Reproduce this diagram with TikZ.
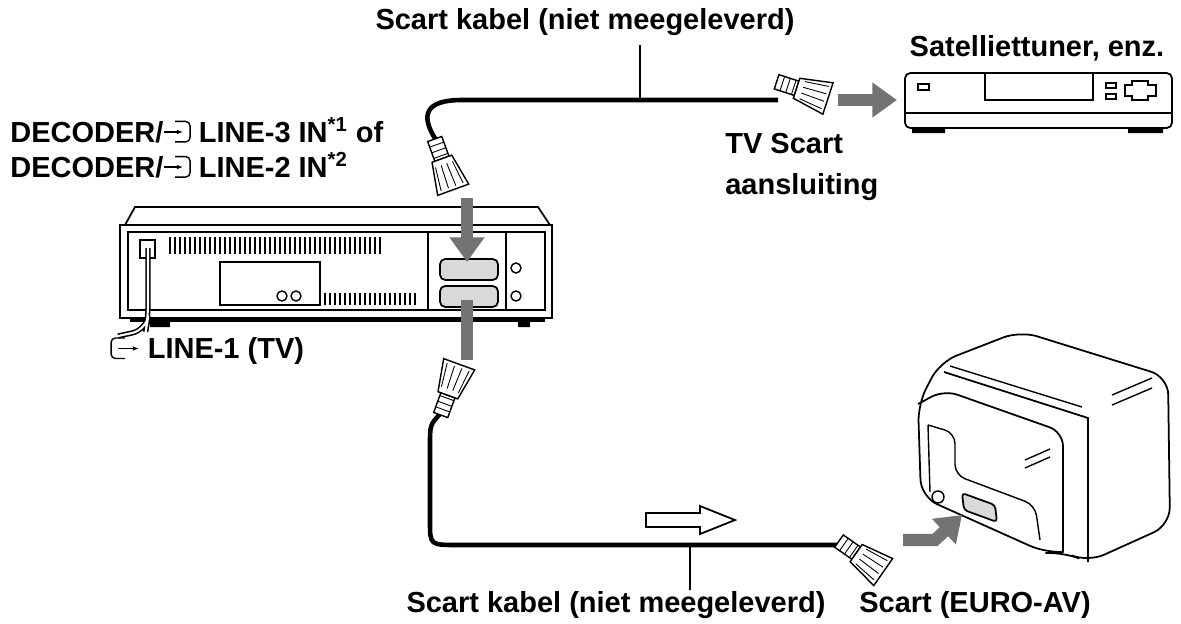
\documentclass[tikz,border=0pt]{standalone}
\usepackage{fontspec}
\setmainfont{Liberation Sans}
\usetikzlibrary{arrows.meta,positioning}

\newcommand{\insym}{\tikz[baseline=-1pt,x=1cm,y=1cm,line width=.8pt]{\draw[rounded corners=2.5pt] (.22,-.03) -- (.52,-.03) -- (.52,.38) -- (.22,.38);
 \draw[-{Latex[length=3.5pt]}] (0,.17) -- (.38,.17);}}
\newcommand{\outsym}{\tikz[baseline=-1pt,x=1cm,y=1cm,line width=.8pt]{\draw[rounded corners=2.5pt] (.28,-.03) -- (0,-.03) -- (0,.38) -- (.28,.38);
 \draw[-{Latex[length=3.5pt]}] (.14,.17) -- (.56,.17);}}
\newcommand{\scartplug}[3]{%
 \begin{scope}[shift={(#1,#2)},rotate=#3,scale=1.5,line width=.8pt]
 \draw[fill=white] (-22,-5) -- (-8,-5) -- (-8,5) -- (-22,5) -- cycle;
 \draw[fill=white] (-8,-7) -- (14,-11) -- (14,11) -- (-8,7) -- cycle;
 \foreach \k in {-6,-2,2,6} \draw[line width=.5pt] (-4,\k) -- (12,\k*1.3);
 \foreach \k in {-18,-14,-10} \draw[line width=.5pt] (\k,-5) -- (\k,5);
 \end{scope}}

\tikzset{
 lbl/.style={font=\bfseries\fontsize{16.5}{20}\selectfont, inner sep=0pt},
 cable/.style={line width=2.6pt},
 leader/.style={line width=1pt},
 plugarrow/.style={line width=7pt, draw=black!55, -{Triangle[length=14pt,width=19pt]}},
 dev/.style={line width=1pt, fill=white}
}

\begin{document}
\begin{tikzpicture}[x=0.02cm,y=-0.02cm]
\useasboundingbox (0,0) rectangle (1181,623);

% labels
\node[lbl] (top) at (585,22) {Scart kabel (niet meegeleverd)};
\node[lbl] (sat) at (1037,48) {Satelliettuner, enz.};
\node[lbl,anchor=west,align=left] (tvs) at (725,167) {TV Scart\\[3pt]aansluiting};
\node[lbl,anchor=west] (dec3) at (10,130) {DECODER/\insym\ LINE-3 IN\textsuperscript{*1} of};
\node[lbl,anchor=west] (dec2) at (10,165) {DECODER/\insym\ LINE-2 IN\textsuperscript{*2}};
\node[lbl,anchor=west] (line1) at (110,351) {\outsym\ LINE-1 (TV)};
\node[lbl] (bot) at (616,605) {Scart kabel (niet meegeleverd)};
\node[lbl] (euro) at (975,605) {Scart (EURO-AV)};

% satellite tuner
\draw[dev,rounded corners=3pt] (905,73) rectangle (1172,128);
\draw[line width=1pt] (905,113) -- (1172,113);
\draw[line width=1pt] (985,73) -- (985,100) -- (1093,100) -- (1093,73);
\draw[line width=.8pt] (918,84) rectangle (929,90);
\draw[line width=.8pt] (1106,83) rectangle (1116,88) (1106,94) rectangle (1116,99);
\draw[line width=.8pt] (1132,81) -- (1148,81) -- (1148,85) -- (1156,85) -- (1156,96) -- (1148,96) -- (1148,100) -- (1132,100) -- (1132,96) -- (1125,96) -- (1125,85) -- (1132,85) -- cycle;
\fill (912,128) rectangle (945,133) (1128,128) rectangle (1163,133);

% VCR
\draw[dev] (125,225) -- (135,207) -- (538,207) -- (550,225) -- cycle;
\draw[dev] (120,225) rectangle (552,318);
\draw[line width=1pt] (128,232) rectangle (545,310);
\draw[line width=.8pt] (428,232) -- (428,310) (506,232) -- (506,310);
\fill (130,318) rectangle (545,322);
\fill (150,322) rectangle (170,327) (518,322) rectangle (530,327);
\foreach \i in {0,...,42} \draw[line width=1.3pt] (170+5*\i,237) -- (170+5*\i,254);
\foreach \i in {0,...,18} \draw[line width=1.3pt] (325+5*\i,293) -- (325+5*\i,305);
\draw[line width=.8pt] (220,262) rectangle (320,305);
\draw[line width=.8pt] (282,296) circle (5) (296,296) circle (5);
\draw[line width=1pt,fill=black!15,rounded corners=3pt] (440,259) rectangle (498,280);
\draw[line width=1pt,fill=black!15,rounded corners=3pt] (440,286) rectangle (498,307);
\draw[line width=.8pt] (516,268) circle (5) (516,296) circle (5);
\draw[line width=.8pt] (140,240) rectangle (155,258);
\draw[line width=3pt,rounded corners=8pt] (148,248) -- (148,318) -- (146,330) -- (118,336);
\draw[line width=1.2pt,white,rounded corners=8pt] (148,248) -- (148,318) -- (146,330) -- (118,336);

% TV (rear view)
\draw[dev,rounded corners=10pt] (940,362) -- (1020,331) -- (1168,377) -- (1170,525) -- (1088,562) -- (1063,552) -- (1046,553) -- (921,497) -- (918,404) -- cycle;
\draw[line width=1pt,rounded corners=8pt] (918,404) -- (944,390) -- (1063,432) -- (1063,552);
\draw[line width=1pt] (944,372) -- (1088,418) -- (1088,562);
\draw[line width=.8pt] (950,366) -- (1082,407) (1112,395) -- (1152,378) (1112,405) -- (1152,388);
\draw[line width=.8pt] (1025,460) -- (1050,449) (1025,468) -- (1050,457);
\draw[line width=.8pt,rounded corners=6pt] (928,425) -- (955,433) -- (955,475) -- (1035,505) -- (1040,540) (928,425) -- (930,492);
\draw[line width=.8pt] (938,497) circle (6);
\draw[line width=1pt,fill=black!15,rounded corners=2pt] (962,493) -- (995,505) -- (997,522) -- (964,510) -- cycle;

% cables
\coordinate (plugA) at (436,140);
\coordinate (plugB) at (778,100);
\coordinate (plugC) at (440,414);
\coordinate (plugD) at (838,545);
\draw[cable] (plugA) .. controls (420,115) and (425,100) .. (462,100) -- (plugB);
\draw[cable] (plugC) .. controls (430,425) .. (430,445) -- (430,522) .. controls (430,545) .. (458,545) -- (plugD);
\scartplug{446}{170}{-70}
\scartplug{808}{92}{-18}
\scartplug{452}{384}{70}
\scartplug{866}{560}{-35}

% plug arrows
\draw[plugarrow] (838,100) -- (897,100);
\draw[plugarrow] (467,198) -- (467,262);
\draw[line width=7pt,draw=black!55] (467,300) -- (467,360);
\draw[plugarrow] (903,540) -- (935,540) -- (962,515);

% leaders and hollow arrow
\draw[leader] (640,45) -- (640,100);
\draw[leader] (690,545) -- (690,590);
\draw[line width=1pt,fill=white] (646,513) -- (700,513) -- (700,506) -- (735,520) -- (700,534) -- (700,527) -- (646,527) -- cycle;
\end{tikzpicture}
\end{document}
